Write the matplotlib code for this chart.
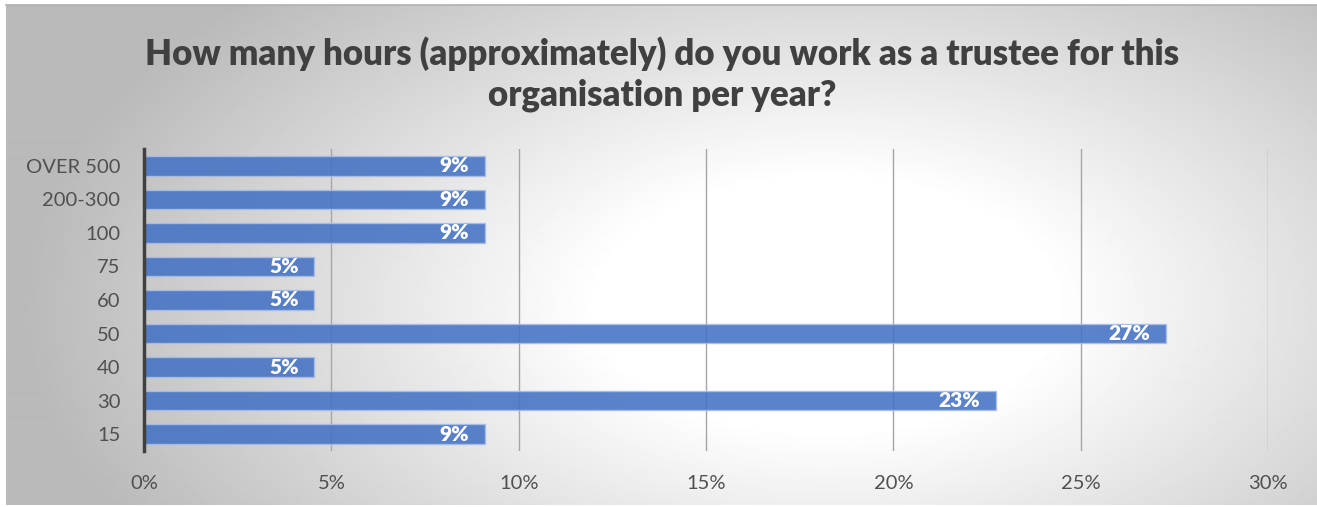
import numpy as np
import matplotlib
matplotlib.use("Agg")
import matplotlib.pyplot as plt
from matplotlib.ticker import FuncFormatter

plt.rcParams['font.family'] = ['Lato', 'DejaVu Sans']

# Respuestas (22 en total) por rango de horas al año
categorias = ['15', '30', '40', '50', '60', '75', '100', '200-300', 'OVER 500']
respuestas = [2, 5, 1, 6, 1, 1, 2, 2, 2]
total = sum(respuestas)
porcentajes = [r / total for r in respuestas]

titulo = 'How many hours (approximately) do you work as a trustee for this\norganisation per year?'

W, H = 1317, 507
fig = plt.figure(figsize=(W / 100, H / 100), dpi=100)

# Fondo con degradado radial (blanco en el centro, gris en los bordes)
bg = fig.add_axes([6 / W, 2 / H, 1 - 6 / W, 1 - 7 / H])
yy, xx = np.mgrid[0:500, 0:1311]
r = np.sqrt(((xx - 820) / 760.0) ** 2 + ((yy - 300) / 420.0) ** 2)
tono = 1 - np.clip((r - 0.3) / 0.75, 0, 1) * 0.27
bg.imshow(tono, cmap='gray', vmin=0, vmax=1, aspect='auto', interpolation='bilinear')
bg.set_axis_off()
fig.add_artist(plt.Line2D([6 / W, 1], [1 - 5 / H, 1 - 5 / H], color='#b0b0b0', lw=1.2))

ax = fig.add_axes([144 / W, 1 - 451 / H, (1268 - 144) / W, (451 - 149) / H])
ax.patch.set_alpha(0)

y = np.arange(len(categorias))
barras = ax.barh(y, porcentajes, height=0.58, color='#4472C4', alpha=0.88,
                 edgecolor='#a9bde6', linewidth=1.0, zorder=3)

for yi, p in zip(y, porcentajes):
    ax.text(p - 0.0042, yi, f'{p:.0%}', ha='right', va='center',
            color='white', fontsize=15, fontweight='heavy', zorder=4)

ax.set_xlim(0, 0.30)
ax.set_ylim(-0.5, len(categorias) - 0.5)
ax.set_xticks(np.arange(0, 0.301, 0.05))
ax.xaxis.set_major_formatter(FuncFormatter(lambda v, _: f'{v:.0%}'))
ax.set_yticks(y)
ax.set_yticklabels(categorias)
ax.tick_params(axis='both', length=0, labelsize=14.5, colors='#505050')
ax.tick_params(axis='x', pad=17)
ax.tick_params(axis='y', pad=17)

ax.grid(axis='x', color='#a6a6a6', linewidth=1.0, zorder=1)
for lado in ['top', 'right', 'bottom']:
    ax.spines[lado].set_visible(False)
ax.spines['left'].set_color('#404040')
ax.spines['left'].set_linewidth(2.5)
ax.spines['left'].set_zorder(5)

fig.text(662 / W, 1 - 74 / H, titulo, ha='center', va='center', fontsize=25,
         fontweight='heavy', color='#404040', linespacing=1.3)

fig.savefig('out.png', dpi=100)
